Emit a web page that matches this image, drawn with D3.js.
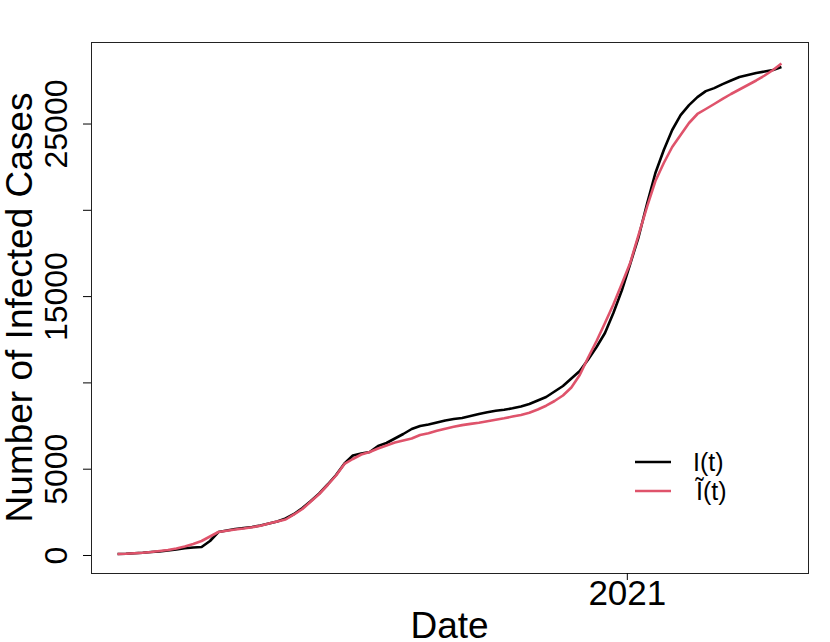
<!DOCTYPE html>
<html>
<head>
<meta charset="utf-8">
<script src="https://cdn.jsdelivr.net/npm/d3@7"></script>
<style>
  body { margin: 0; background: #fff; }
  svg { font-family: "Liberation Sans", Arial, sans-serif; }
</style>
</head>
<body>
<svg id="chart" width="830" height="642"></svg>
<script>
// one observation every 5 days, 2020-03-04 .. 2021-04-03
const dates = d3.utcDay.range(new Date(Date.UTC(2020, 2, 4)), new Date(Date.UTC(2021, 3, 4)), 5);

const observed = [
  60, 75, 104, 133, 174, 203, 261, 319, 388, 435,
  464, 811, 1333, 1420, 1506, 1564, 1622, 1709, 1825, 1941,
  2115, 2376, 2723, 3129, 3563, 4085, 4635, 5302, 5765, 5881,
  5968, 6315, 6489, 6750, 7011, 7300, 7474, 7561, 7677, 7793,
  7880, 7938, 8054, 8170, 8268, 8355, 8413, 8500, 8604, 8749,
  8952, 9155, 9473, 9792, 10227, 10661, 11327, 12052, 12863, 14021,
  15325, 16861, 18425, 20337, 22133, 23466, 24625, 25488, 26067, 26531,
  26878, 27052, 27284, 27493, 27695, 27811, 27927, 28014, 28101, 28275
];

const fitted = [
  58, 70, 98, 127, 174, 232, 290, 377, 492, 637,
  811, 1072, 1333, 1402, 1477, 1535, 1605, 1692, 1825, 1941,
  2057, 2347, 2665, 3100, 3534, 4056, 4606, 5273, 5562, 5823,
  5968, 6171, 6344, 6518, 6634, 6750, 6953, 7051, 7196, 7318,
  7428, 7526, 7596, 7665, 7747, 7833, 7920, 8019, 8117, 8245,
  8430, 8650, 8923, 9241, 9705, 10429, 11443, 12399, 13442, 14514,
  15702, 16918, 18541, 20163, 21670, 22712, 23640, 24335, 25030, 25552,
  25841, 26131, 26421, 26710, 26971, 27232, 27493, 27782, 28101, 28478
];

const yTicks = [0, 5000, 10000, 15000, 20000, 25000];
const yLabelled = [0, 5000, 15000, 25000];
const xTicks = [new Date(Date.UTC(2021, 0, 1))];

const svg = d3.select('#chart');
const plotLeft = 91, plotRight = 808, plotTop = 42, plotBottom = 573;

// R style 4% padding on the date range
const span = dates[dates.length - 1] - dates[0];
const x = d3.scaleUtc()
  .domain([new Date(+dates[0] - span * 0.04), new Date(+dates[dates.length - 1] + span * 0.04)])
  .range([plotLeft, plotRight]);

const y = d3.scaleLinear()
  .domain([-1043, 29723])
  .range([plotBottom, plotTop]);

const line = d3.line()
  .x((d, i) => x(dates[i]))
  .y(d => y(d));

svg.append('path')
  .datum(observed)
  .attr('d', line)
  .attr('fill', 'none')
  .attr('stroke', '#000')
  .attr('stroke-width', 2.6)
  .attr('stroke-linejoin', 'round');

svg.append('path')
  .datum(fitted)
  .attr('d', line)
  .attr('fill', 'none')
  .attr('stroke', '#DF536B')
  .attr('stroke-width', 2.6)
  .attr('stroke-linejoin', 'round');

// box
svg.append('rect')
  .attr('x', plotLeft + 0.5)
  .attr('y', plotTop + 0.5)
  .attr('width', plotRight - plotLeft)
  .attr('height', plotBottom - plotTop)
  .attr('fill', 'none')
  .attr('stroke', '#222')
  .attr('stroke-width', 1);

// y axis
const yAxis = svg.append('g')
  .attr('transform', `translate(${plotLeft}, 0)`)
  .call(d3.axisLeft(y).tickValues(yTicks).tickSize(8)
    .tickFormat(d => yLabelled.includes(d) ? d : ''));
yAxis.select('.domain').remove();
yAxis.selectAll('line').attr('stroke', '#000');
yAxis.selectAll('text')
  .attr('x', null).attr('dy', null)
  .attr('transform', 'translate(-24, 0) rotate(-90)')
  .attr('text-anchor', 'middle')
  .attr('fill', '#000')
  .style('font-size', '32px')
  .style('font-family', '"Liberation Sans", Arial, sans-serif');

// x axis
const xAxis = svg.append('g')
  .attr('transform', `translate(0, ${plotBottom})`)
  .call(d3.axisBottom(x).tickValues(xTicks).tickSize(7).tickFormat(d3.utcFormat('%Y')));
xAxis.select('.domain').remove();
xAxis.selectAll('line').attr('stroke', '#000');
xAxis.selectAll('text')
  .attr('y', 32).attr('dy', null)
  .attr('fill', '#000')
  .style('font-size', '35px')
  .style('font-family', '"Liberation Sans", Arial, sans-serif');

// titles
svg.append('text')
  .attr('x', (plotLeft + plotRight) / 2)
  .attr('y', 638)
  .attr('text-anchor', 'middle')
  .style('font-size', '37px')
  .text('Date');

svg.append('text')
  .attr('transform', `translate(32, ${(plotTop + plotBottom) / 2}) rotate(-90)`)
  .attr('text-anchor', 'middle')
  .style('font-size', '37px')
  .text('Number of Infected Cases');

// legend
const legendItems = [
  { label: 'I(t)', color: '#000', y: 462 },
  { label: 'Ĩ(t)', color: '#DF536B', y: 491 }
];
const legend = svg.append('g');
legend.selectAll('line')
  .data(legendItems)
  .enter()
  .append('line')
  .attr('x1', 635).attr('x2', 671)
  .attr('y1', d => d.y).attr('y2', d => d.y)
  .attr('stroke', d => d.color)
  .attr('stroke-width', 2.6);
legend.selectAll('text')
  .data(legendItems)
  .enter()
  .append('text')
  .attr('x', (d, i) => i ? 696 : 693)
  .attr('y', d => d.y + 9)
  .style('font-size', '25px')
  .text(d => d.label);
</script>
</body>
</html>
